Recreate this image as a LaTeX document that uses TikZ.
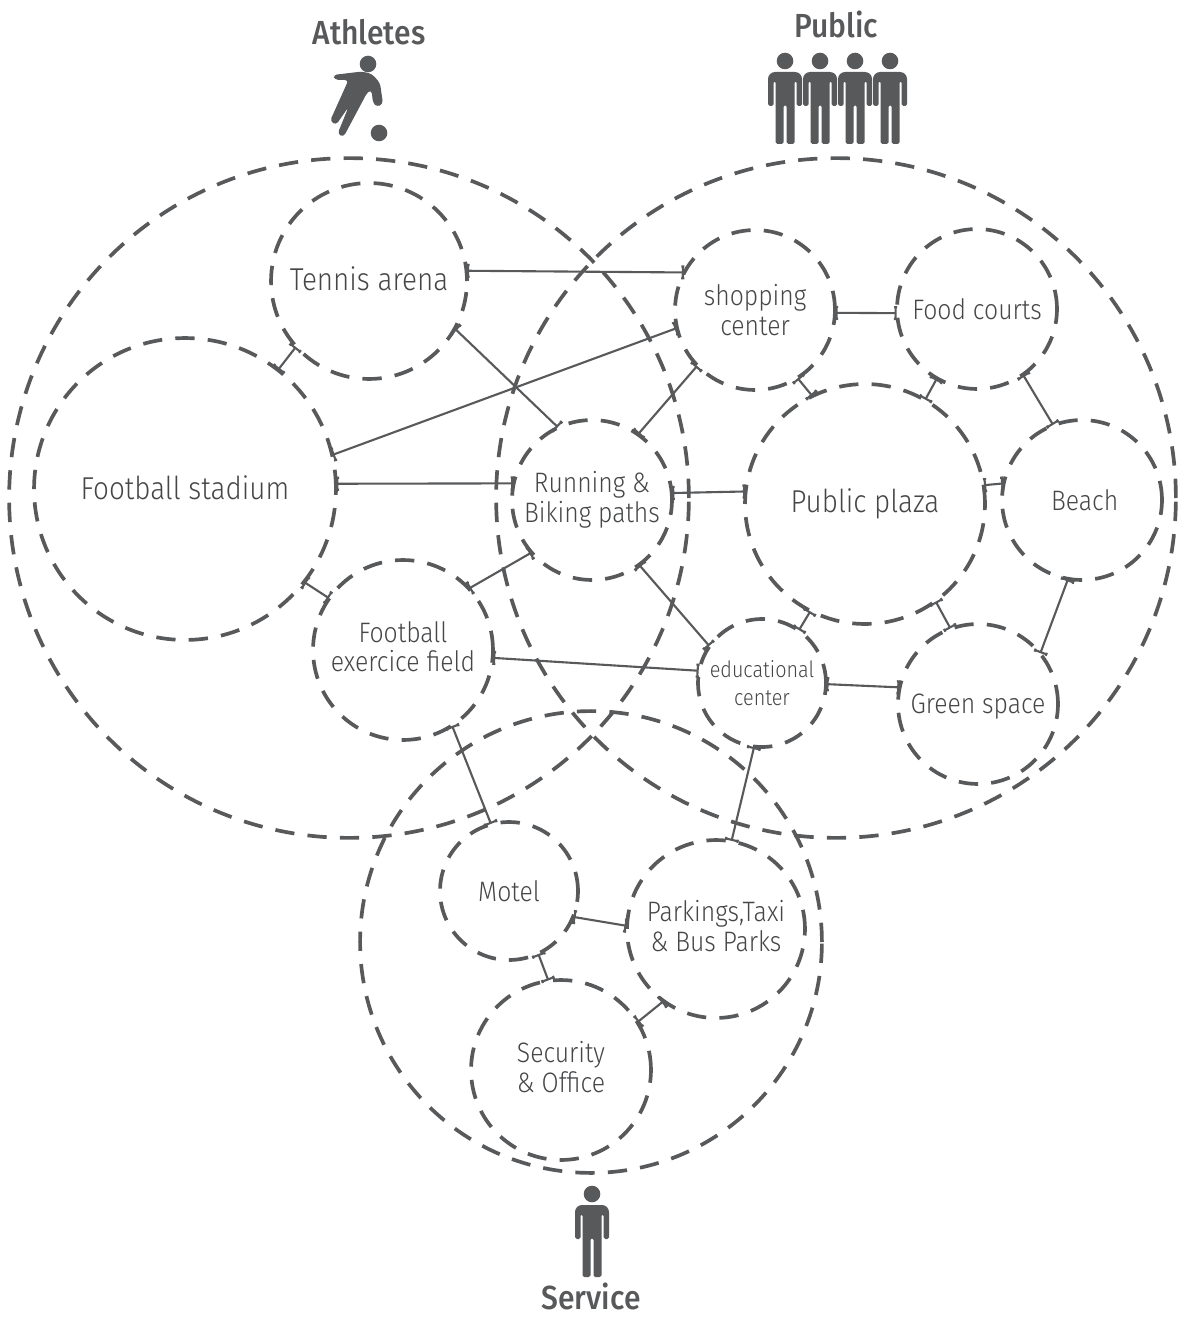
\documentclass[tikz,border=0pt]{standalone}
\usepackage{fontspec}
\setmainfont[FakeStretch=0.88]{Fira Sans Light}
\newfontfamily\headfont[FakeStretch=0.9]{Fira Sans Medium}
\usetikzlibrary{arrows.meta}
\definecolor{ink}{HTML}{58595B}
\definecolor{word}{HTML}{454648}
\tikzset{
    room/.style={circle, draw=ink, line width=2.1pt, dash pattern=on 11pt off 7.5pt, text=word, align=center,
        inner sep=0pt, outer sep=0pt, minimum size=(#1-1)*0.04cm},
    link/.style={draw=ink, line width=1.2pt, {Bar[width=8pt,length=1.8pt]}-{Bar[width=8pt,length=1.8pt]}},
    head/.style={text=ink, font=\headfont\fontsize{19}{21}\selectfont},
    large/.style={font=\fontsize{18}{19}\selectfont},
    person/.pic={
        \fill[ink] (0,0) circle (8.3);
        \fill[ink, rounded corners=1pt] (-17,45) [rounded corners=4pt] -- (-17,11) -- (17,11) [rounded corners=1pt] -- (17,45) -- (11.5,45)
            -- (11.5,20) -- (9.5,20) -- (9.5,83) -- (1.5,83) -- (1.5,44) -- (-1.5,44) -- (-1.5,83) -- (-9.5,83) -- (-9.5,20)
            -- (-11.5,20) -- (-11.5,45) -- cycle;
    }
}

\begin{document}
\begin{tikzpicture}[x=0.02cm, y=-0.02cm, every node/.append style={font=\fontsize{16}{17}\selectfont}]
        \useasboundingbox (0,0) rectangle (1188,1321);

        \node[room=341] (athletes) at (349,498) {};
        \node[room=341] (public) at (836,498) {};
        \node[room=232] (service) at (591,942) {};

        \node[room=99, large, text depth=3pt] (tennis) at (369,281) {Tennis arena};
        \node[room=152, large, text depth=2pt] (stadium) at (185,489) {Football stadium};
        \node[room=81] (shopping) at (755,310) {shopping\\center};
        \node[room=81] (food) at (977,309) {Food courts};
        \node[room=121, large] (plaza) at (865,504) {Public plaza};
        \node[room=81] (beach) at (1082,500) {\hspace*{3pt}Beach};
        \node[room=81] (running) at (592,500) {Running \&\\Biking paths};
        \node[room=91, text depth=4pt] (exercice) at (403,650) {Football\\exercice field};
        \node[room=65, font=\fontsize{12.8}{16}\selectfont] (educational) at (762,683) {educational\\center};
        \node[room=81, text depth=0pt] (green) at (978,704) {Green space};
        \node[room=70] (motel) at (509,891) {Motel};
        \node[room=90, text depth=4pt] (parkings) at (716,929) {Parkings,Taxi\\\& Bus Parks};
        \node[room=91, text depth=3.5pt] (security) at (561,1070) {Security\\\& Office};

        \draw[link] (tennis.6) -- (shopping.152);
        \draw[link] (tennis.-29.7) -- (running.115);
        \draw[link] (tennis.222) -- (stadium.52.5);
        \draw[link] (stadium.13.7) -- (shopping.193);
        \draw[link] (stadium.2) -- (running.168.7);
        \draw[link] (stadium.-38) -- (exercice.145.3);
        \draw[link] (exercice.43.2) -- (running.221);
        \draw[link] (running.-54.5) -- (educational.145.8);
        \draw[link] (exercice.-5.7) -- (educational.169);
        \draw[link] (exercice.-57) -- (motel.105.8);
        \draw[link] (running.55.9) -- (shopping.224);
        \draw[link] (running.5) -- (plaza.174.8);
        \draw[link] (shopping.-58.4) -- (plaza.116);
        \draw[link] (plaza.60) -- (food.240);
        \draw[link] (food.-55.5) -- (beach.111.8);
        \draw[link] (shopping.-2) -- (food.183);
        \draw[link] (plaza.9.6) -- (beach.168.5);
        \draw[link] (plaza.243.9) -- (educational.55);
        \draw[link] (plaza.-54.5) -- (green.110);
        \draw[link] (beach.260) -- (green.39);
        \draw[link] (educational.-1) -- (green.168.7);
        \draw[link] (educational.263.8) -- (parkings.80);
        \draw[link] (motel.-22) -- (parkings.178);
        \draw[link] (motel.-65) -- (security.98.8);
        \draw[link] (parkings.234.4) -- (security.32.3);

        \node[head] (athleteslabel) at (369,32) {Athletes};
        \node[head] (publiclabel) at (836,24) {Public};
        \node[head] (servicelabel) at (591,1296) {Service};

        \fill[ink] (368,64) circle (8.3);
        \fill[ink] (379,133) circle (8.3);
        \fill[ink, rounded corners=2pt] (333,75) -- (362,71.5) -- (372,74) -- (380,83) -- (383,104) -- (377,107) -- (373,103)
            -- (371.5,90) -- (367.5,92) -- (343.5,137) -- (337.5,134) -- (348.5,107) -- (336,125) -- (330,121) -- (348.5,80) -- (335,80) -- cycle;

        \foreach \x in {785,820,855,890}
            \pic at (\x,61) {person};
        \pic at (592,1194) {person};
    \end{tikzpicture}
\end{document}
